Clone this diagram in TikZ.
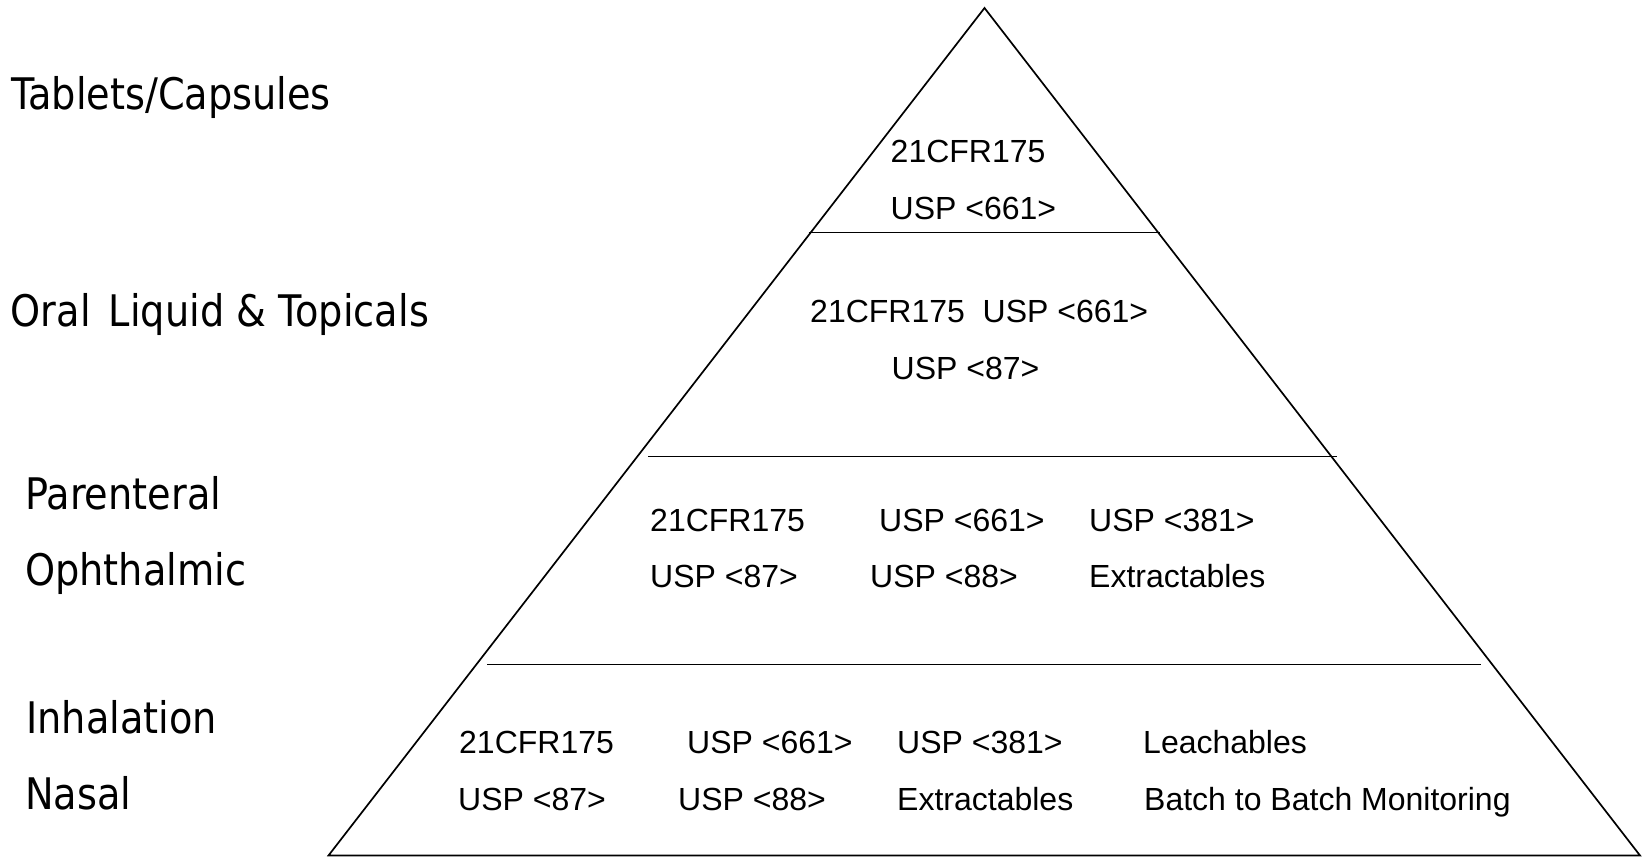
\documentclass[tikz,border=0pt]{standalone}
\usepackage{fontspec}
\setmainfont{Liberation Sans}
\newfontfamily\labelfont[FakeStretch=0.88]{DejaVu Sans}
\begin{document}
\begin{tikzpicture}[x=1pt,y=-1pt,
  edge/.style={line width=1.7pt,black},
  divider/.style={line width=1.9pt,black},
  cat/.style={anchor=base west,inner sep=0pt,font=\labelfont\fontsize{43.5}{50}\selectfont},
  req/.style={anchor=base west,inner sep=0pt,font=\fontsize{32}{38}\selectfont}]
\useasboundingbox (0,0) rectangle (1646,857);
% pyramid outline
\coordinate (apex) at (984.5,8);
\coordinate (bl) at (328.5,855.5);
\coordinate (br) at (1640,855.5);
\draw[edge,line join=miter] (bl) -- (apex) -- (br) -- cycle;
% dividers
\coordinate (d1l) at (808.5,232.5);
\coordinate (d1r) at (1160,232.5);
\coordinate (d2l) at (648,456.5);
\coordinate (d2r) at (1336.5,456.5);
\coordinate (d3l) at (487,664.5);
\coordinate (d3r) at (1481,664.5);
\draw[divider] (d1l) -- (d1r);
\draw[divider] (d2l) -- (d2r);
\draw[divider] (d3l) -- (d3r);
% category labels
\node[cat] (tab) at (11,109.3) {Tablets/Capsules};
\node[cat] (oral) at (10.5,326.7) {Oral\hspace{0.42em}Liquid \& Topicals};
\node[cat] (par) at (25,509.3) {Parenteral};
\node[cat] (oph) at (25,585.7) {Ophthalmic};
\node[cat] (inh) at (26,733.3) {Inhalation};
\node[cat] (nas) at (25,809.3) {Nasal};
% tier 1
\node[req] (t1a) at (890.5,162) {21CFR175};
\node[req] (t1b) at (890.5,219) {USP <661>};
% tier 2
\node[req] (t2a) at (810,322) {21CFR175};
\node[req] (t2b) at (982.5,322) {USP <661>};
\node[req] (t2c) at (891.5,379) {USP <87>};
% tier 3
\node[req] (t3a) at (650,531) {21CFR175};
\node[req] (t3b) at (879,531) {USP <661>};
\node[req] (t3c) at (1089,531) {USP <381>};
\node[req] (t3d) at (650,587) {USP <87>};
\node[req] (t3e) at (870,587) {USP <88>};
\node[req] (t3f) at (1089,587) {Extractables};
% tier 4
\node[req] (t4a) at (459,753) {21CFR175};
\node[req] (t4b) at (687,753) {USP <661>};
\node[req] (t4c) at (897,753) {USP <381>};
\node[req] (t4d) at (1143,753) {Leachables};
\node[req] (t4e) at (458,810) {USP <87>};
\node[req] (t4f) at (678,810) {USP <88>};
\node[req] (t4g) at (897,810) {Extractables};
\node[req] (t4h) at (1144,810) {Batch to Batch Monitoring};
\end{tikzpicture}
\end{document}
